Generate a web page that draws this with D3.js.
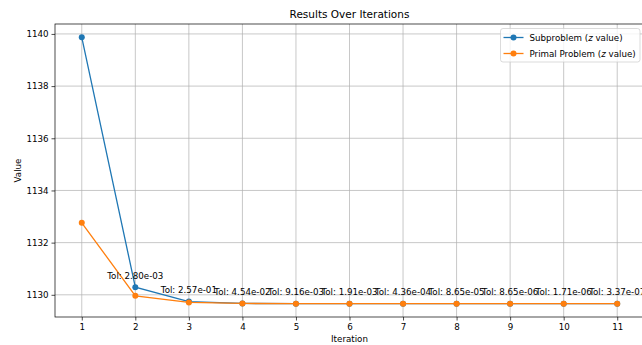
<!DOCTYPE html>
<html><head><meta charset="utf-8">
<script src="https://cdn.jsdelivr.net/npm/d3@7"></script>
<style>
html,body{margin:0;padding:0;background:#fff;overflow:hidden;}
svg{display:block;font-family:"DejaVu Sans",sans-serif;}
</style></head>
<body>
<svg id="chart" width="642" height="345"></svg>
<script>
const iterations = [1,2,3,4,5,6,7,8,9,10,11];
const subproblem = [1139.87,1130.29,1129.74,1129.67,1129.66,1129.66,1129.66,1129.66,1129.66,1129.66,1129.66];
const primal = [1132.76,1129.96,1129.71,1129.67,1129.66,1129.66,1129.66,1129.66,1129.66,1129.66,1129.66];
const tolLabels = ["","Tol: 2.80e-03","Tol: 2.57e-01","Tol: 4.54e-02","Tol: 9.16e-03","Tol: 1.91e-03","Tol: 4.36e-04","Tol: 8.65e-05","Tol: 8.65e-06","Tol: 1.71e-06","Tol: 3.37e-07"];
const yTicks = [1130,1132,1134,1136,1138,1140];
const xTicks = iterations;

const svg = d3.select("#chart");
const L=55, T=24, R=644, B=317;
const fs = 8.7;
const x = d3.scaleLinear().domain([0.5,11.5]).range([L,R]);
const allV = subproblem.concat(primal);
const vmin = d3.min(allV), vmax = d3.max(allV), pad=(vmax-vmin)*0.05;
const y = d3.scaleLinear().domain([vmin-pad, vmax+pad]).range([B,T]);

// grid
const g = svg.append("g");
g.selectAll(".gx").data(xTicks).join("line")
  .attr("x1",d=>x(d)).attr("x2",d=>x(d)).attr("y1",T).attr("y2",B)
  .attr("stroke","#b0b0b0").attr("stroke-width",0.7);
g.selectAll(".gy").data(yTicks).join("line")
  .attr("x1",L).attr("x2",R).attr("y1",d=>y(d)).attr("y2",d=>y(d))
  .attr("stroke","#b0b0b0").attr("stroke-width",0.7);

// axes
const xAxis = d3.axisBottom(x).tickValues(xTicks).tickSize(3.5).tickPadding(3).tickFormat(d3.format("d"));
const yAxis = d3.axisLeft(y).tickValues(yTicks).tickSize(3.5).tickPadding(3).tickFormat(d3.format("d"));
const gx = svg.append("g").attr("transform",`translate(0,${B})`).call(xAxis);
const gy = svg.append("g").attr("transform",`translate(${L},0)`).call(yAxis);
[gx,gy].forEach(a=>{
  a.select(".domain").remove();
  a.selectAll("text").attr("font-size",fs).attr("fill","#000").attr("font-family","DejaVu Sans");
  a.selectAll("line").attr("stroke","#000").attr("stroke-width",0.7);
});

// spines
svg.append("rect").attr("x",L).attr("y",T).attr("width",R-L).attr("height",B-T)
  .attr("fill","none").attr("stroke","#000").attr("stroke-width",0.7);

// lines
const series = [{vals:subproblem,color:"#1f77b4"},{vals:primal,color:"#ff7f0e"}];
const line = d3.line().x((d,i)=>x(iterations[i])).y(d=>y(d));
series.forEach(s=>{
  svg.append("path").datum(s.vals).attr("d",line).attr("fill","none")
    .attr("stroke",s.color).attr("stroke-width",1.3);
  svg.append("g").selectAll("circle").data(s.vals).join("circle")
    .attr("cx",(d,i)=>x(iterations[i])).attr("cy",d=>y(d)).attr("r",3).attr("fill",s.color);
});

// annotations
svg.append("g").selectAll("text").data(iterations.slice(1)).join("text")
  .attr("x",d=>x(d)).attr("y",(d,i)=>y(subproblem[i+1])-8.7)
  .attr("text-anchor","middle").attr("font-size",fs).attr("fill","#000")
  .text((d,i)=>tolLabels[i+1]);

// title and labels
svg.append("text").attr("x",(L+R)/2).attr("y",T-6).attr("text-anchor","middle")
  .attr("font-size",10.5).attr("fill","#000").text("Results Over Iterations");
svg.append("text").attr("x",(L+R)/2).attr("y",342).attr("text-anchor","middle")
  .attr("font-size",fs).attr("fill","#000").text("Iteration");
svg.append("text").attr("transform",`translate(21,${(T+B)/2}) rotate(-90)`).attr("text-anchor","middle")
  .attr("font-size",fs).attr("fill","#000").text("Value");

// legend
const lg = svg.append("g").attr("transform","translate(500.5,28.5)");
lg.append("rect").attr("width",139.5).attr("height",33.5).attr("rx",2.5)
  .attr("fill","#fff").attr("fill-opacity",0.8).attr("stroke","#cccccc").attr("stroke-width",0.7);
const names = [["Subproblem (","z"," value)"],["Primal Problem (","z"," value)"]];
series.forEach((s,i)=>{
  const yy = 9 + i*16;
  lg.append("line").attr("x1",3).attr("x2",23).attr("y1",yy).attr("y2",yy).attr("stroke",s.color).attr("stroke-width",1.3);
  lg.append("circle").attr("cx",13).attr("cy",yy).attr("r",3).attr("fill",s.color);
  const t = lg.append("text").attr("x",29).attr("y",yy+3.2).attr("font-size",fs).attr("fill","#000");
  t.append("tspan").text(names[i][0]);
  t.append("tspan").attr("font-style","italic").text(names[i][1]);
  t.append("tspan").text(names[i][2]);
});
</script>
</body></html>
